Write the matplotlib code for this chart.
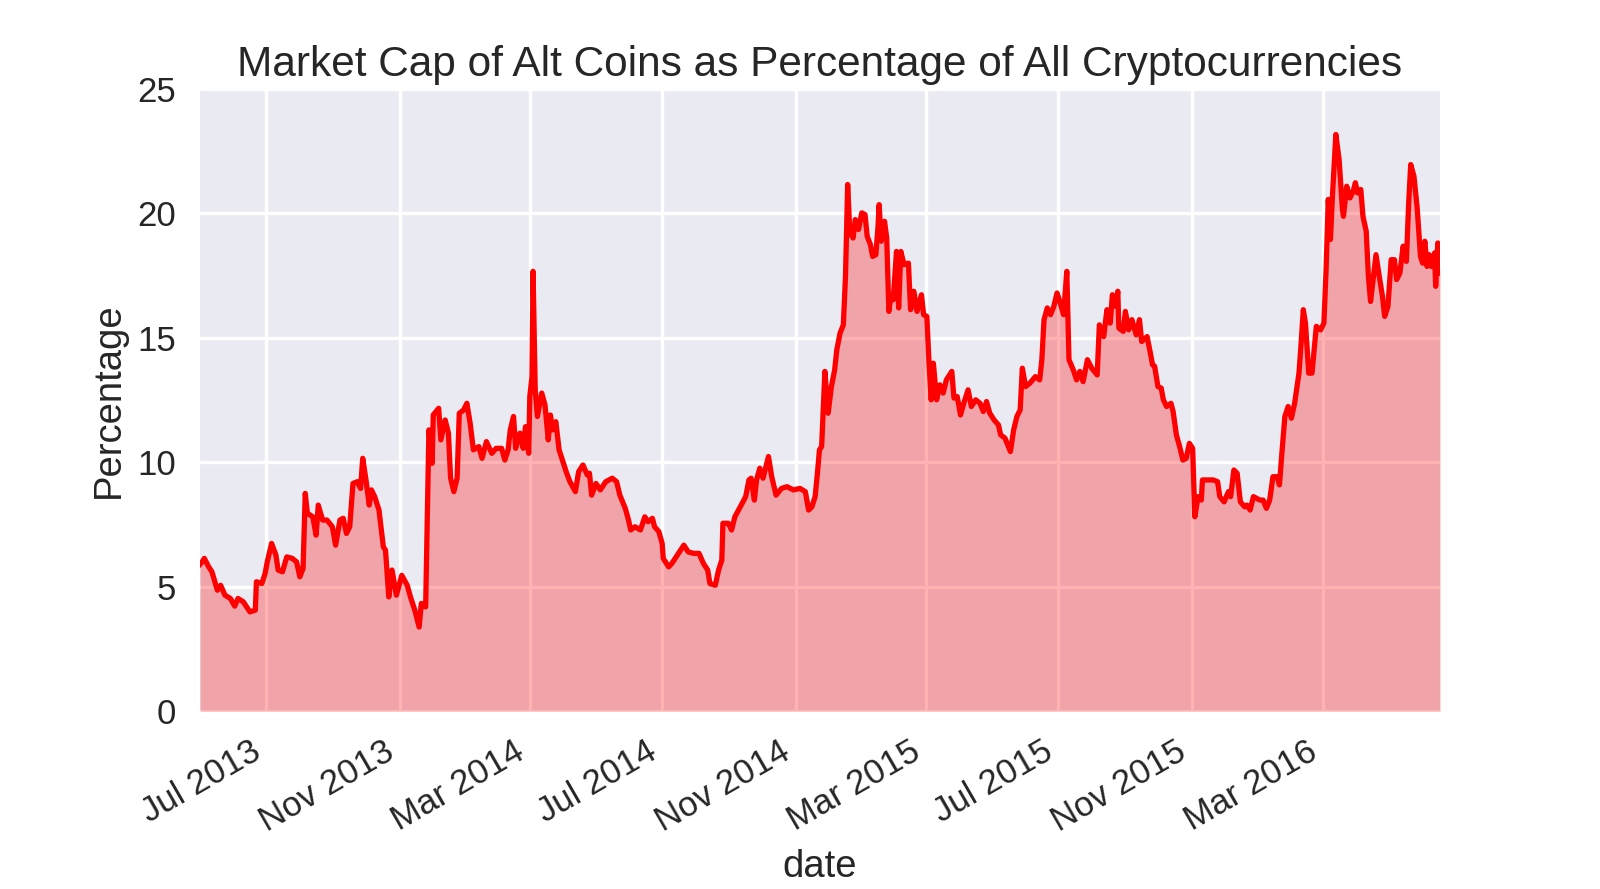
import matplotlib
matplotlib.use("Agg")
import matplotlib.pyplot as plt
import matplotlib.dates as mdates
import pandas as pd

# days counted from 2013-07-01
day = [-61, -59, -57, -53, -50, -45, -42, -38, -33, -29, -26, -21, -15, -10, -9, -4, -1,
       1, 5, 9, 11, 15, 19, 24, 28, 31, 34, 36, 38, 43, 46, 48, 52, 56, 61, 64, 68, 71, 74,
       77, 80, 84, 87, 89, 92, 95, 97, 100, 104, 108, 110, 113, 116, 120, 125, 130, 133,
       137, 141, 143, 147, 150, 153, 154, 159, 161, 165, 168, 170, 173, 176, 178, 182, 185,
       188, 191, 196, 199, 203, 208, 212, 217, 220, 223, 225, 228, 230, 234, 237, 239, 242,
       243, 245, 246, 248, 250, 254, 257, 260, 262, 264, 267, 270, 274, 277, 280, 285, 288,
       292, 296, 298, 300, 304, 308, 313, 319, 323, 326, 331, 334, 336, 340, 345, 349, 352,
       356, 358, 362, 365, 366, 371, 374, 379, 382, 385, 389, 394, 399, 403, 407, 409, 414,
       417, 420, 421, 426, 429, 432, 437, 442, 445, 447, 450, 452, 455, 458, 463, 466, 470,
       475, 480, 486, 492, 497, 500, 503, 506, 508, 510, 512, 515, 518, 521, 524, 526, 529,
       532, 534, 536, 538, 541, 543, 546, 549, 552, 554, 557, 559, 562, 564, 565, 567, 570,
       572, 574, 576, 578, 581, 583, 585, 588, 592, 594, 597, 600, 604, 606, 609, 611, 613,
       615, 618, 621, 624, 627, 632, 634, 637, 640, 643, 647, 650, 654, 658, 661, 664, 667,
       671, 675, 677, 681, 686, 689, 692, 695, 697, 700, 704, 709, 713, 715, 717, 720, 723,
       726, 729, 732, 735, 738, 740, 744, 747, 750, 753, 757, 761, 766, 768, 772, 775, 778,
       780, 783, 785, 786, 790, 792, 795, 798, 802, 805, 807, 812, 815, 817, 819, 822, 825,
       827, 830, 834, 836, 839, 842, 845, 848, 851, 854, 856, 859, 862, 863, 869, 873, 877,
       879, 883, 887, 889, 892, 895, 898, 902, 904, 907, 910, 913, 916, 919, 922, 925, 928,
       932, 934, 936, 939, 942, 945, 948, 952, 954, 956, 958, 961, 964, 966, 968, 972, 975,
       977, 979, 981, 983, 986, 989, 992, 993, 996, 999, 1002, 1004, 1006, 1009, 1011, 1014,
       1016, 1018, 1020, 1023, 1026, 1029, 1031, 1034, 1037, 1040, 1042, 1045, 1048, 1051,
       1053, 1055, 1058, 1061, 1064, 1066, 1068, 1070, 1072, 1074, 1077, 1078, 1080, 1082]

pct = [5.9, 6.0, 6.14, 5.8, 5.6, 4.86, 5.06, 4.66, 4.53, 4.22, 4.53, 4.39, 3.99, 4.06, 5.2, 5.13, 5.53,
       6.0, 6.74, 6.27, 5.67, 5.6, 6.2, 6.14, 6.0, 5.4, 5.73, 8.75, 7.95, 7.81, 7.07, 8.28, 7.68, 7.68, 7.41, 6.67, 7.68, 7.75, 7.14,
       7.41, 9.15, 9.22, 8.95, 10.16, 9.29, 8.28, 8.89, 8.62, 8.08, 6.6, 6.47, 4.59, 5.67, 4.66, 5.46, 5.06, 4.59,
       4.06, 3.38, 4.33, 4.19, 11.3, 9.96, 11.9, 12.17, 10.9, 11.7, 11.17, 9.36, 8.82, 9.36, 11.97, 12.1, 12.37,
       11.57, 10.5, 10.63, 10.16, 10.83, 10.36, 10.56, 10.56, 10.09, 10.5, 11.3, 11.84, 10.56, 11.17, 10.56, 11.43, 10.36,
       12.64, 13.44, 17.67, 12.91, 11.84, 12.78, 12.31, 10.9, 11.9, 11.3, 11.63, 10.5, 9.96, 9.56, 9.22, 8.82, 9.62,
       9.89, 9.49, 9.56, 8.68, 9.15, 8.89, 9.22, 9.36, 9.22, 8.68, 8.15, 7.68, 7.28, 7.41, 7.28, 7.81, 7.61,
       7.75, 7.41, 7.21, 6.74, 6.14, 5.8, 5.94, 6.27, 6.47, 6.67, 6.4, 6.34, 6.34, 5.94, 5.67, 5.13, 5.06,
       5.67, 6.07, 7.55, 7.55, 7.28, 7.81, 8.21, 8.62, 9.29, 9.36, 8.48, 9.29, 9.76, 9.36, 10.23, 9.42, 8.68,
       8.95, 9.02, 8.89, 8.95, 8.82, 8.08, 8.21, 8.62, 9.5, 10.5, 10.63, 13.65, 11.97, 13.04, 13.71, 14.52, 15.19,
       15.52, 17.47, 21.16, 19.22, 19.01, 19.75, 19.35, 20.02, 19.95, 19.08, 18.74, 18.27, 18.34, 19.48, 20.35, 18.88, 19.68,
       19.01, 16.06, 16.73, 16.53, 18.47, 16.2, 18.47, 17.94, 18.0, 16.13, 16.87, 16.06, 16.73, 15.93, 15.86, 13.98, 12.51,
       13.98, 12.51, 13.11, 12.78, 13.31, 13.65, 12.58, 12.64, 11.9, 12.37, 12.91, 12.24, 12.51, 12.37, 12.04, 12.44, 11.97,
       11.7, 11.5, 11.1, 10.97, 10.43, 11.3, 11.84, 12.1, 13.78, 13.04, 13.18, 13.44, 13.31, 14.12, 15.73, 16.2, 15.93,
       16.26, 16.8, 16.4, 15.93, 17.67, 14.12, 13.71, 13.31, 13.65, 13.24, 14.12, 13.78, 13.51, 15.52, 15.05, 16.13, 15.59,
       16.73, 16.26, 16.87, 15.39, 15.26, 16.06, 15.32, 15.73, 15.12, 15.73, 14.85, 15.05, 14.39, 13.92, 13.85, 13.04, 12.98,
       12.51, 12.24, 12.37, 12.04, 11.1, 10.63, 10.09, 10.16, 10.76, 10.56, 7.81, 8.62, 8.48, 9.29, 9.29, 9.29, 9.22,
       8.62, 8.41, 8.82, 8.62, 9.69, 9.56, 8.41, 8.21, 8.28, 8.08, 8.62, 8.55, 8.48, 8.48, 8.15, 8.48, 9.42,
       9.42, 9.09, 10.23, 11.84, 12.24, 11.77, 12.37, 13.58, 14.79, 16.13, 15.59, 13.58, 13.58, 14.52, 15.46, 15.32, 15.59,
       17.74, 20.56, 18.95, 20.82, 23.17, 22.16, 20.2, 19.88, 21.09, 20.62, 20.89, 21.23, 20.82, 20.96, 19.88, 19.28,
       17.47, 16.46, 17.2, 18.34, 17.47, 16.66, 15.86, 16.26, 18.14, 18.14, 17.34, 17.6, 18.68, 18.07,
       20.29, 21.96, 21.49, 20.2, 18.27, 18.0, 18.88, 17.87, 18.34, 17.87, 18.41, 17.07, 18.81, 17.6]

assert len(day) == len(pct)

dates = pd.Timestamp("2013-07-01") + pd.to_timedelta(day, unit="D")

ink = "#262626"
plt.rcParams.update({
    "font.family": ["Liberation Sans", "DejaVu Sans"],
    "axes.facecolor": "#EAEAF2",
    "axes.edgecolor": "white",
    "axes.linewidth": 0,
    "grid.color": "white",
    "grid.linewidth": 1.2,
    "text.color": ink,
    "axes.labelcolor": ink,
    "xtick.color": ink,
    "ytick.color": ink,
    "xtick.major.size": 0,
    "ytick.major.size": 0,
    "xtick.major.pad": 8.5,
    "ytick.major.pad": 8.5,
    "xtick.labelsize": 12.5,
    "ytick.labelsize": 12.5,
    "axes.labelsize": 13.75,
    "axes.titlesize": 15.25,
})

fig, ax = plt.subplots(figsize=(8, 4.445), dpi=200)
ax.grid(True)
ax.set_axisbelow(True)
for sp in ax.spines.values():
    sp.set_visible(False)

ax.plot(dates, pct, color="red", lw=1.9)
ax.fill_between(dates, 0, pct, color="red", alpha=0.3, lw=0)

ax.set_xlim(dates[0], dates[-1])
ax.set_ylim(0, 25)
ax.set_yticks([0, 5, 10, 15, 20, 25])
ax.xaxis.set_major_locator(mdates.MonthLocator(bymonth=(3, 7, 11)))
ax.xaxis.set_major_formatter(mdates.DateFormatter("%b %Y"))

ax.set_xlabel("date")
ax.set_ylabel("Percentage")
ax.set_title("Market Cap of Alt Coins as Percentage of All Cryptocurrencies", pad=4.5)
fig.autofmt_xdate()
fig.subplots_adjust(left=0.125, right=0.9, bottom=0.2, top=0.9)

fig.savefig("out.png", dpi=200)
